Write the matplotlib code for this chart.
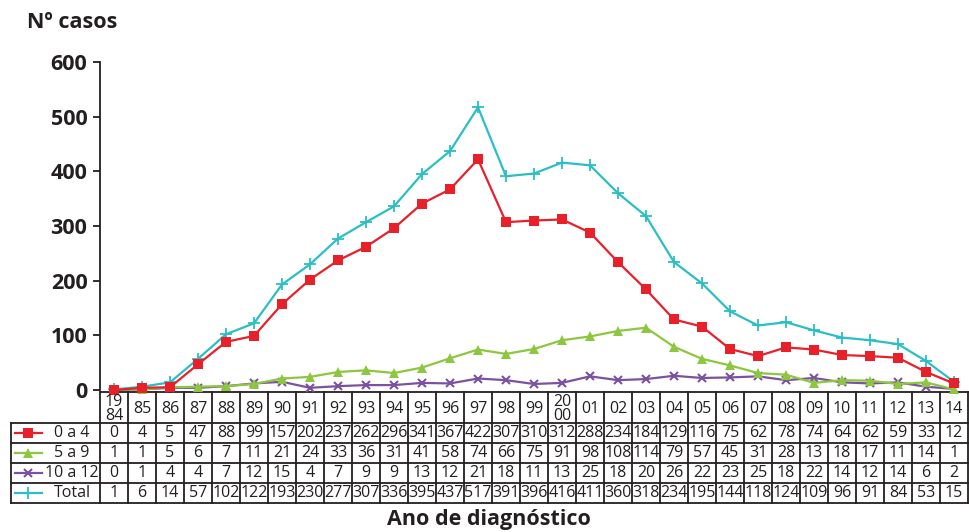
import numpy as np
import matplotlib
matplotlib.use("Agg")
from matplotlib import pyplot as plt
from matplotlib.lines import Line2D

plt.rcParams["font.family"] = ["Open Sans", "DejaVu Sans"]

years = ["19\n84", "85", "86", "87", "88", "89", "90", "91", "92", "93", "94", "95", "96", "97",
         "98", "99", "20\n00", "01", "02", "03", "04", "05", "06", "07", "08", "09", "10", "11",
         "12", "13", "14"]
age_0_4 = [0, 4, 5, 47, 88, 99, 157, 202, 237, 262, 296, 341, 367, 422, 307, 310, 312, 288,
           234, 184, 129, 116, 75, 62, 78, 74, 64, 62, 59, 33, 12]
age_5_9 = [1, 1, 5, 6, 7, 11, 21, 24, 33, 36, 31, 41, 58, 74, 66, 75, 91, 98, 108, 114, 79,
           57, 45, 31, 28, 13, 18, 17, 11, 14, 1]
age_10_12 = [0, 1, 4, 4, 7, 12, 15, 4, 7, 9, 9, 13, 12, 21, 18, 11, 13, 25, 18, 20, 26, 22,
             23, 25, 18, 22, 14, 12, 14, 6, 2]
total = [1, 6, 14, 57, 102, 122, 193, 230, 277, 307, 336, 395, 437, 517, 391, 396, 416, 411,
         360, 318, 234, 195, 144, 118, 124, 109, 96, 91, 84, 53, 15]

series = [
    ("0 a 4", age_0_4, dict(color="#e8202a", marker="s", markersize=7, markeredgewidth=0)),
    ("5 a 9", age_5_9, dict(color="#8dc63f", marker="^", markersize=7, markeredgewidth=0)),
    ("10 a 12", age_10_12, dict(color="#7b52a0", marker="x", markersize=6, markeredgewidth=1.5)),
    ("Total", total, dict(color="#2bbfc4", marker="+", markersize=9, markeredgewidth=1.3)),
]

dark = "#231f20"

fig = plt.figure(figsize=(9.7, 5.32), dpi=100)
ax = fig.add_axes([100 / 970, 1 - 390 / 532, 868 / 970, 328 / 532])

x = np.arange(len(years))
# draw total first so the age groups sit on top of it
for name, vals, style in [series[3], series[2], series[1], series[0]]:
    ax.plot(x, vals, linewidth=1.6, clip_on=False, zorder=3, **style)

ax.set_xlim(-0.5, len(years) - 0.5)
ax.set_ylim(0, 600)
ax.set_yticks(range(0, 601, 100))
ax.set_xticks([])
for s in ["top", "right", "bottom"]:
    ax.spines[s].set_visible(False)
ax.spines["left"].set_color(dark)
ax.spines["left"].set_linewidth(1.3)
ax.tick_params(axis="y", length=5, width=1.3, color=dark, labelsize=15.5, labelcolor=dark, pad=4)
for lab in ax.get_yticklabels():
    lab.set_fontweight("bold")

fig.text(27 / 970, 1 - 23 / 532, "Nº casos", fontsize=15.5, fontweight="bold", color=dark,
         ha="left", va="center")
fig.text(489 / 970, 1 - 520 / 532, "Ano de diagnóstico", fontsize=15.5, fontweight="bold",
         color=dark, ha="center", va="center")

# ---- table under the axis ----
tr = ax.get_xaxis_transform()
lw = 1.3
row_edges = [-2 / 328, -33 / 328, -53 / 328, -73 / 328, -93 / 328, -113 / 328]
x_label_left = (11 - 100) / 28 - 0.5
x_first = -0.5
x_last = len(years) - 0.5

def hline(x0, x1, y):
    ax.add_line(Line2D([x0, x1], [y, y], transform=tr, color=dark, lw=lw, clip_on=False))

def vline(xx, y0, y1):
    ax.add_line(Line2D([xx, xx], [y0, y1], transform=tr, color=dark, lw=lw, clip_on=False))

hline(x_first, x_last, row_edges[0])
for y in row_edges[1:]:
    hline(x_label_left, x_last, y)
for i in range(len(years) + 1):
    vline(i - 0.5, row_edges[0], row_edges[-1])
vline(x_label_left, row_edges[1], row_edges[-1])

fs = 11.5
for i, yr in enumerate(years):
    ym = (row_edges[0] + row_edges[1]) / 2 - 1.5 / 328
    ax.text(i, ym, yr, transform=tr, ha="center", va="center", fontsize=fs, color=dark,
            linespacing=0.8)

for r, (name, vals, style) in enumerate(series):
    ym = (row_edges[r + 1] + row_edges[r + 2]) / 2
    for i, v in enumerate(vals):
        ax.text(i, ym, str(v), transform=tr, ha="center", va="center", fontsize=fs, color=dark)
    sx0 = (15 - 100) / 28 - 0.5
    sx1 = (42 - 100) / 28 - 0.5
    ax.add_line(Line2D([sx0, sx1], [ym, ym], transform=tr, color=style["color"], lw=1.6,
                       clip_on=False))
    ax.add_line(Line2D([(sx0 + sx1) / 2], [ym], transform=tr, linestyle="none",
                       clip_on=False, **style))
    ax.text((72 - 100) / 28 - 0.5, ym, name, transform=tr, ha="center", va="center",
            fontsize=fs, color=dark)

fig.savefig("out.png", dpi=100)
